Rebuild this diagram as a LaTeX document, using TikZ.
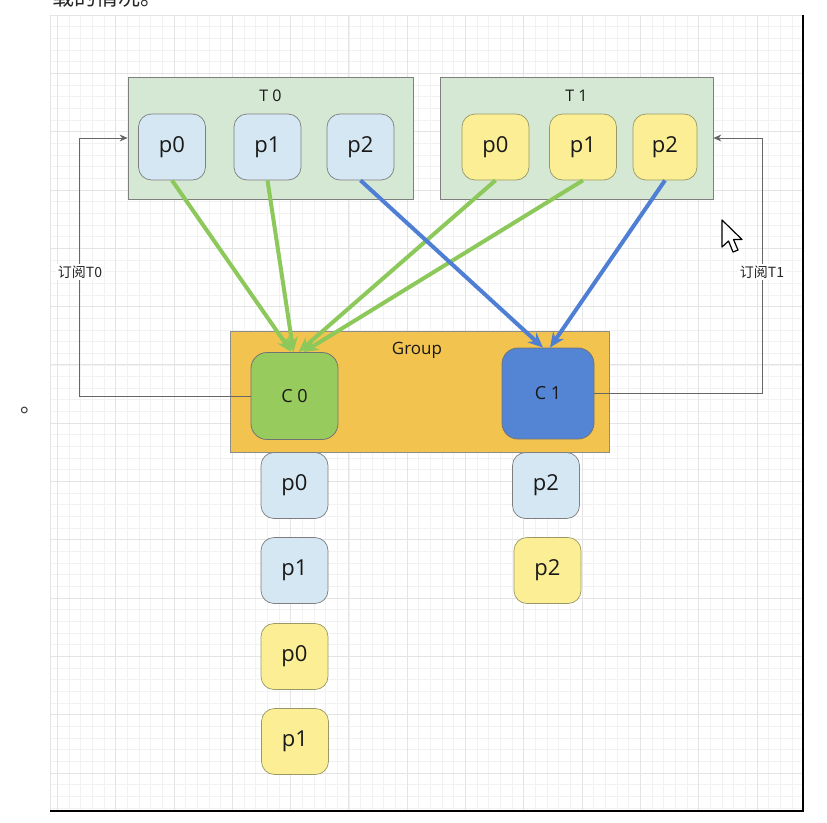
\documentclass[tikz,border=0pt]{standalone}
\usepackage{fontspec}
\setmainfont{Noto Sans CJK SC}
\newfontfamily\labfont{Open Sans}
\usetikzlibrary{arrows.meta}
\definecolor{gridminor}{HTML}{F2F2F2}
\definecolor{gridmajor}{HTML}{E4E4E4}
\definecolor{tgreen}{HTML}{D5E8D4}
\definecolor{pblue}{HTML}{D4E7F2}
\definecolor{pyellow}{HTML}{FBEE94}
\definecolor{grp}{HTML}{F2C44F}
\definecolor{cgreen}{HTML}{97CB5E}
\definecolor{cblue}{HTML}{5485D5}
\definecolor{agreen}{HTML}{8CC85A}
\definecolor{ablue}{HTML}{4F7FD4}
\definecolor{edge}{HTML}{7F7F7F}
\tikzset{
  topic/.style={draw=edge, fill=tgreen, line width=0.8pt, minimum width=285pt, minimum height=122pt},
  topictitle/.style={font=\labfont\fontsize{16}{18}\selectfont, text=black!90},
  pbox/.style={draw=edge, line width=0.7pt, rounded corners=13pt, minimum width=67pt, minimum height=66pt, font=\labfont\fontsize{22}{24}\selectfont, text=black!90},
  pb/.style={pbox, fill=pblue},
  py/.style={pbox, fill=pyellow, draw=edge!80!yellow},
  cbox/.style={draw=black!55, line width=0.8pt, rounded corners=16pt, minimum width=87pt, minimum height=87pt, font=\labfont\fontsize{18}{20}\selectfont, text=black!90},
  flow/.style={line width=4pt, -{Stealth[length=15pt,width=13pt,inset=5pt]}},
  sub/.style={draw=black!60, line width=0.8pt, -{Stealth[length=8pt,width=7pt]}},
  lbl/.style={fill=white, inner sep=1.5pt, font=\fontsize{14}{16}\selectfont, text=black!85},
}
\begin{document}
\begin{tikzpicture}[x=1pt,y=-1pt]
\useasboundingbox (0,0) rectangle (827,822);
\fill[white] (0,0) rectangle (827,822);
% grid
\foreach \i in {0,...,63} \draw[gridminor, line width=0.6pt] ({57.3+11.66*\i},15) -- ({57.3+11.66*\i},810);
\foreach \i in {1,...,68} \draw[gridminor, line width=0.6pt] (50,{15+11.66*\i}) -- (803,{15+11.66*\i});
\foreach \i in {0,...,12} \draw[gridmajor, line width=0.8pt] ({57.3+58.3*\i},15) -- ({57.3+58.3*\i},810);
\foreach \i in {0,...,13} \draw[gridmajor, line width=0.8pt] (50,{15+58.3*\i}) -- (803,{15+58.3*\i});
\draw[gridmajor, line width=0.8pt] (50,15) -- (50,810);
\draw[black, line width=2pt] (803,15) -- (803,812);
\draw[black, line width=2pt] (50,811) -- (804,811);
% stray page text
\node[anchor=base west, inner sep=0pt, font=\fontsize{22}{24}\selectfont, text=black!85] (pagetext) at (52,5) {载的情况。};
\node[anchor=center, inner sep=0pt, font=\fontsize{22}{24}\selectfont, text=black!80] (dot) at (31,410) {。};
% topics
\node[topic] (t0) at (270.5,138) {};
\node[topictitle] (t0t) at (270.5,96) {T 0};
\node[topic, minimum width=273pt] (t1) at (576.5,138) {};
\node[topictitle] (t1t) at (576.5,96) {T 1};
\node[pb] (t0p0) at (172,147) {p0};
\node[pb] (t0p1) at (267.5,147) {p1};
\node[pb] (t0p2) at (360.5,147) {p2};
\node[py] (t1p0) at (495.5,147) {p0};
\node[py] (t1p1) at (583,147) {p1};
\node[py, minimum width=64pt] (t1p2) at (665,147) {p2};
% group
\node[draw=black!45, fill=grp, line width=0.8pt, minimum width=379pt, minimum height=121pt] (grp) at (419.5,391.5) {};
\node[font=\labfont\fontsize{17}{19}\selectfont, text=black!90] (grpt) at (417,350) {Group};
\node[cbox, fill=cgreen] (c0) at (294.5,396) {C 0};
\node[cbox, fill=cblue, minimum width=92pt, minimum height=91pt] (c1) at (548,393.5) {C 1};
% assigned partitions
\node[pb] (a0) at (294.5,485.5) {p0};
\node[pb] (a1) at (294.5,570.5) {p1};
\node[py] (a2) at (294.5,656.5) {p0};
\node[py] (a3) at (295,741.5) {p1};
\node[pb] (b0) at (546,485.5) {p2};
\node[py] (b1) at (547.5,570.5) {p2};
% flows
\draw[flow, agreen] (t0p0.south) -- ([xshift=-3pt]c0.north);
\draw[flow, agreen] (t0p1.south) -- ([xshift=-1pt]c0.north);
\draw[flow, agreen] (t1p0.south) -- ([xshift=4pt]c0.north);
\draw[flow, agreen] (t1p1.south) -- ([xshift=9pt]c0.north);
\draw[flow, ablue] (t0p2.south) -- ([xshift=-5pt]c1.north);
\draw[flow, ablue] (t1p2.south) -- ([xshift=2pt]c1.north);
% subscriptions
\draw[sub] (c0.west) -| ([xshift=-48pt]t0.west) -- (t0.west);
\node[lbl] (l0) at (80,272) {订阅T0};
\draw[sub] (c1.east) -| ([xshift=49pt]t1.east) -- (t1.east);
\node[lbl] (l1) at (762,272) {订阅T1};
% mouse cursor
\draw[fill=white, draw=black, line width=1.2pt, line join=round] (722,220) -- (722,247) -- (728.5,241) -- (733,252) -- (738,250) -- (733.5,239.5) -- (742,239.5) -- cycle;
\end{tikzpicture}
\end{document}
